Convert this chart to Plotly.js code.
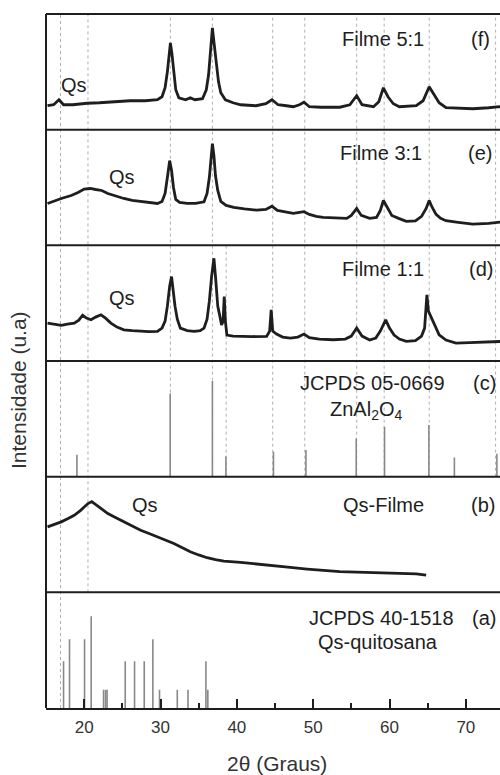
<!DOCTYPE html>
<html><head><meta charset="utf-8">
<script src="https://cdn.plot.ly/plotly-3.0.1.min.js"></script>
<style>html,body{margin:0;padding:0;overflow:hidden;background:#fff}#chart{width:510px;height:775px}</style>
</head><body><div id="chart"></div>
<script>
// ---- data (2θ in degrees, intensity in arbitrary units) ----
const xTicks = [20, 30, 40, 50, 60, 70];
const qsLines = [16.9, 20.5];
const znLines = [31.3, 36.8, 44.7, 48.9, 55.7, 59.3, 65.2, 73.9];
const znExtraLine = [38.6];

// (f) Filme 5:1
const panelF = [[15.2,24],[16.0,25],[16.7,30],[17.3,25],[18.5,25],[20.4,26.5],[22,27],[23.9,28],[26,29],[28,29],[29.6,30],[30.2,33],[30.6,42],[30.9,58],[31.15,80],[31.3,87],[31.5,76],[31.75,55],[32.0,40],[32.4,32],[33.3,30],[33.9,32],[34.5,30],[35.5,31],[36.0,40],[36.3,55],[36.55,80],[36.8,102],[37.0,88],[37.3,68],[37.6,48],[37.9,37],[38.5,30],[39.5,27],[40.5,25],[42.5,24],[43.8,26],[44.6,30],[45.4,25],[46.5,24],[47.4,23],[48.2,25],[48.8,27.5],[49.5,23],[51,22.5],[53.5,22.5],[54.8,25],[55.7,34],[56.4,25],[57.9,23],[58.6,28],[59.2,42],[59.8,33],[60.5,26],[61.3,23],[63.5,24],[64.4,29],[65.2,43],[65.8,36],[66.5,27],[67.4,22],[70.9,21],[73,22],[74.4,23],[75,22]];
// (e) Filme 3:1
const panelE = [[15.2,42],[16.2,45],[17.0,47],[18.3,50],[19.2,53],[20.0,56.5],[20.8,57],[21.5,56],[22.3,55],[23.1,52],[24.2,49],[25.2,47],[26.3,45],[27.4,44],[28.6,43],[29.6,42],[30.2,44],[30.6,52],[30.9,68],[31.2,85],[31.45,75],[31.7,58],[32.0,46],[32.5,43],[33.5,42],[34.6,42],[35.7,43.7],[36.1,52],[36.4,68],[36.6,88],[36.8,102],[37.0,90],[37.2,70],[37.5,55],[37.9,44],[38.6,40],[39.6,38],[41,36.5],[42.6,35.3],[43.8,36],[44.6,39.3],[45.3,35],[46.3,33.5],[47.4,32],[48.2,33],[48.8,33.7],[49.5,31],[50.4,29],[51.3,28],[52.8,27.5],[54.4,27],[55.0,30],[55.7,37],[56.3,30],[57.4,27],[58.3,28],[58.8,35],[59.2,45],[59.7,38],[60.3,30],[61.2,27],[62.2,24],[63.4,24.5],[64.2,29],[64.8,37],[65.2,45],[65.6,38],[66.1,31],[66.7,27],[67.4,24.7],[69,23],[70.9,21.3],[73,22],[75,23.7]];
// (d) Filme 1:1
const panelD = [[15.2,38],[16.2,37],[17,35.7],[17.8,37],[18.7,38],[19.3,41],[19.8,46],[20.3,43],[20.9,41.3],[21.5,44],[22.2,46.3],[22.8,43],[23.5,38],[24.3,34],[25.2,31.3],[26.3,30.5],[27.4,29.7],[28.5,29.5],[29.6,29.7],[30.2,33],[30.6,40],[30.9,55],[31.2,75],[31.45,84.7],[31.7,68],[31.9,55],[32.2,42],[32.6,33],[33.5,30.5],[34.4,29.7],[35.2,30.5],[35.7,33],[36.1,42],[36.4,60],[36.7,85],[37.0,103],[37.2,85],[37.5,55],[37.75,46],[38.0,36],[38.2,40],[38.35,64.7],[38.5,40],[38.7,26],[39.5,25],[40.5,24.7],[42,24.5],[43.9,24.7],[44.3,30],[44.5,51.3],[44.7,30],[45.2,27],[46,24],[47,23],[48,24],[48.8,27],[49.5,23.5],[50.8,22],[52.6,21.3],[54.2,22],[55,25],[55.7,33],[56.4,25],[57.4,21],[58.2,23],[58.8,30],[59.5,41.3],[60.0,33],[60.6,26],[61.3,22],[62.2,19.7],[63.4,20.5],[64.2,25],[64.6,33],[64.9,66.3],[65.1,50],[65.5,43],[66.0,34],[66.5,26.3],[67.4,21],[68.7,18],[70.5,18.5],[72.5,19],[75,19.7]];
// (c) JCPDS 05-0669 ZnAl2O4 reference lines
const znPos = [19.05, 31.27, 36.8, 38.57, 44.8, 49.05, 55.64, 59.35, 65.16, 68.5, 74.07];
const znInt = [23, 87, 100, 21, 26, 28, 40, 52, 54, 20, 24];
// (b) Qs-Filme
const panelB = [[15.2,65.7],[16.1,68],[17,70.7],[17.9,74],[18.7,77.3],[19.5,82],[20.1,86],[20.5,89],[21.0,91],[21.7,87],[22.4,83],[23.1,79],[24.1,75],[25.2,70.7],[26.3,66.5],[27.4,62.3],[28.5,59],[29.6,55.7],[30.7,52.5],[31.75,49],[32.8,45],[33.9,40.7],[35,37.5],[36.1,34.7],[37.2,32.8],[38.3,31.3],[40.5,30],[42.6,28.2],[44.8,26.7],[47,25],[49.2,23.3],[51.4,22],[53.5,20.7],[55.7,20.2],[57.9,19.7],[60,19.3],[62.2,19],[63.5,18.5],[64.8,17.3]];
// (a) JCPDS 40-1518 Qs-quitosana reference lines
const qsPos = [17.3, 18.08, 20.05, 20.92, 22.54, 22.8, 23.0, 25.38, 26.6, 27.87, 29.0, 29.87, 32.2, 33.6, 35.95, 36.2];
const qsInt = [51, 75, 75, 100, 20, 20, 20, 51, 51, 51, 75, 20, 20, 20, 51, 20];

// ---- layout helpers ----
const L = 46, T = 14, PW = 458, PH = 694, B = 775 - T - PH;
const N = 6;
const px = x => (x - L) / PW;
const py = y => (T + PH - y) / PH;
const dom = k => [k / N, (k + 1) / N];
const ink = '#1e1e1e';
const FONT = 'Arial, "Liberation Sans", sans-serif';

function curve(pairs, ya) {
  return {x: pairs.map(p => p[0]), y: pairs.map(p => p[1]), xaxis: 'x', yaxis: ya,
    mode: 'lines', line: {color: ink, width: 2.8}, hoverinfo: 'skip'};
}
function sticks(pos, inten, ya) {
  const xs = [], ys = [];
  pos.forEach((p, i) => { xs.push(p, p, null); ys.push(0, inten[i], null); });
  return {x: xs, y: ys, xaxis: 'x', yaxis: ya, mode: 'lines',
    line: {color: '#888', width: 1.6}, hoverinfo: 'skip'};
}

const traces = [
  sticks(qsPos, qsInt, 'y'),
  curve(panelB, 'y2'),
  sticks(znPos, znInt, 'y3'),
  curve(panelD, 'y4'),
  curve(panelE, 'y5'),
  curve(panelF, 'y6')
];

const hidden = {showgrid: false, zeroline: false, showticklabels: false, ticks: '', showline: false, fixedrange: true};
const yRanges = [[0, 126], [0, 116], [0, 121], [0, 116], [0, 116], [0, 116]];

const shapes = [];
const vline = (x, y0, y1) => shapes.push({type: 'line', xref: 'x', yref: 'paper', x0: x, x1: x, y0: y0, y1: y1,
  line: {color: '#b0b0b0', width: 1, dash: 'dot'}, layer: 'below'});
qsLines.forEach((x, i) => vline(x, i === 0 ? 0 : 1 / 6, 1));
znLines.forEach(x => vline(x, 2 / 6, 1));
znExtraLine.forEach(x => vline(x, 2 / 6, 4 / 6));
for (let k = 1; k <= N; k++) {
  shapes.push({type: 'line', xref: 'paper', yref: 'paper', x0: 0, x1: 1, y0: k / N, y1: k / N,
    line: {color: ink, width: 2}});
}
shapes.push({type: 'line', xref: 'paper', yref: 'paper', x0: 0, x1: 0, y0: 0, y1: 1, line: {color: ink, width: 2}});
shapes.push({type: 'line', xref: 'paper', yref: 'paper', x0: 1, x1: 1, y0: 0, y1: 1, line: {color: ink, width: 2}});

const labels = [
  ['Filme 5:1', 383, 39], ['(f)', 480, 39],
  ['Qs', 74, 85],
  ['Filme 3:1', 381, 153], ['(e)', 480, 153],
  ['Qs', 122, 177],
  ['Filme 1:1', 383, 269], ['(d)', 481, 269],
  ['Qs', 122, 298],
  ['JCPDS 05-0669', 372, 383], ['(c)', 484, 383],
  ['ZnAl<sub>2</sub>O<sub>4</sub>', 366, 411],
  ['Qs', 145, 505], ['Qs-Filme', 383, 505], ['(b)', 483, 505],
  ['JCPDS 40-1518', 381, 618], ['(a)', 484, 618],
  ['Qs-quitosana', 378, 642]
];
const annotations = labels.map(l => ({text: l[0], x: px(l[1]), y: py(l[2]), xref: 'paper', yref: 'paper',
  xanchor: 'center', yanchor: 'middle', showarrow: false, font: {family: FONT, size: 20, color: ink}}));
annotations.push({text: 'Intensidade (u.a)', textangle: -90, x: px(19), y: py(390), xref: 'paper', yref: 'paper',
  xanchor: 'center', yanchor: 'middle', showarrow: false, font: {family: FONT, size: 21, color: '#333'}});
annotations.push({text: '2θ (Graus)', x: px(277), y: py(763), xref: 'paper', yref: 'paper',
  xanchor: 'center', yanchor: 'middle', showarrow: false, font: {family: FONT, size: 21, color: '#333'}});

const layout = {
  width: 510, height: 775,
  margin: {l: L, r: 510 - L - PW, t: T, b: B},
  paper_bgcolor: '#fff', plot_bgcolor: '#fff', showlegend: false,
  xaxis: {range: [15, 75], anchor: 'y', showgrid: false, zeroline: false, fixedrange: true,
    tickvals: xTicks, ticktext: xTicks.map(String), ticks: 'inside', ticklen: 9, tickwidth: 2, tickcolor: ink,
    ticklabelstandoff: 3,
    minor: {dtick: 5, tick0: 15, ticks: 'inside', ticklen: 5, tickwidth: 2, tickcolor: ink},
    showline: true, linecolor: ink, linewidth: 2,
    tickfont: {family: FONT, size: 17, color: '#333'}},
  shapes: shapes, annotations: annotations
};
yRanges.forEach((r, k) => {
  const key = k === 0 ? 'yaxis' : 'yaxis' + (k + 1);
  layout[key] = Object.assign({}, hidden, {domain: dom(k), range: r, anchor: 'x'});
});

Plotly.newPlot('chart', traces, layout, {staticPlot: true, displayModeBar: false});
</script></body></html>
